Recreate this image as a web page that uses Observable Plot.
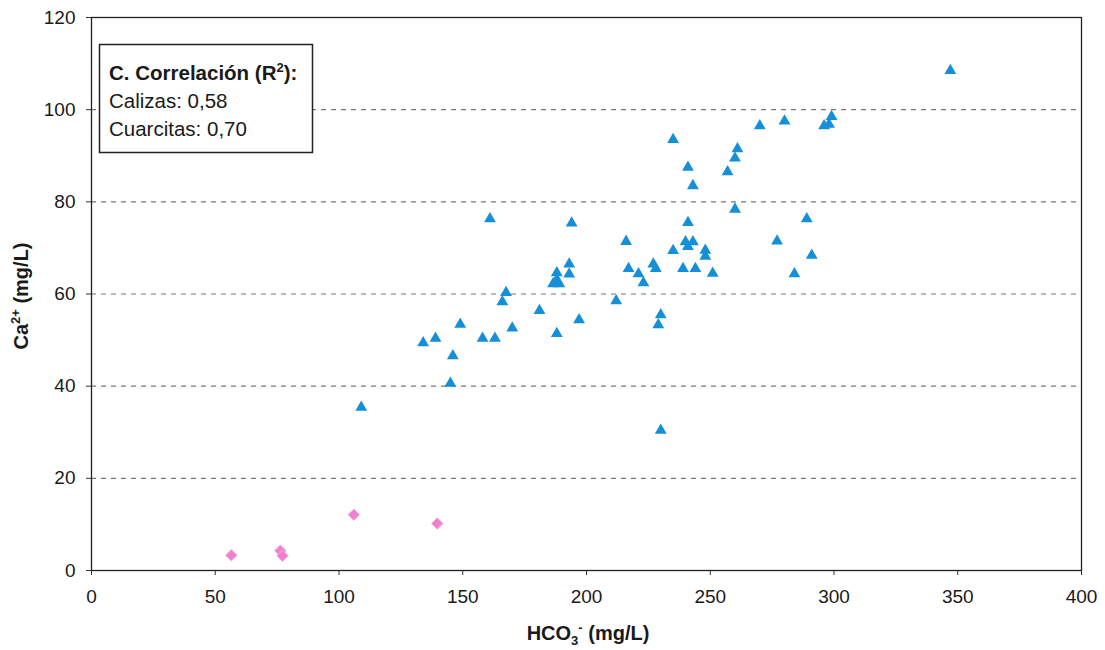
<!DOCTYPE html>
<html>
<head>
<meta charset="utf-8">
<script src="https://cdn.jsdelivr.net/npm/d3@7"></script>
<script src="https://cdn.jsdelivr.net/npm/@observablehq/plot@0.6"></script>
<style>
  html, body { margin: 0; padding: 0; background: #fff; }
  #chart svg { display: block; }
  #chart svg g[aria-label$="tick label"] text { font-size: 19px !important; }
</style>
</head>
<body>
<div id="chart"></div>
<script>
// Cuarcitas (blue triangles): HCO3- (mg/L) and Ca2+ (mg/L)
const cuarcitasHCO3 = [347, 235, 270, 280, 261, 260, 241, 257, 243, 296, 298, 299,
  161, 194, 260, 241, 216, 240, 243, 241, 235, 248, 248, 277, 284, 217, 221, 223,
  227, 228, 239, 244, 251, 188, 188, 186.5, 189, 193, 193, 167.5, 166, 212, 181,
  230, 229, 197, 149, 170, 134, 139, 158, 163, 188, 146, 145, 289, 291, 109, 230];
const cuarcitasCa = [108.5, 93.5, 96.5, 97.5, 91.5, 89.5, 87.5, 86.5, 83.5, 96.5, 96.8, 98.5,
  76.3, 75.4, 78.4, 75.5, 71.4, 71.3, 71.3, 70.3, 69.4, 69.5, 68.2, 71.5, 64.4, 65.5, 64.4, 62.4,
  66.5, 65.5, 65.5, 65.5, 64.5, 64.6, 63.1, 62.2, 62.2, 66.5, 64.3, 60.3, 58.3, 58.5, 56.4,
  55.5, 53.3, 54.4, 53.4, 52.6, 49.4, 50.4, 50.4, 50.4, 51.4, 46.6, 40.6, 76.3, 68.4, 35.4, 30.4];
// Calizas (pink diamonds)
const calizasHCO3 = [56.5, 76.3, 77.2, 106, 139.7];
const calizasCa = [3.3, 4.3, 3.2, 12.1, 10.2];

const xTicks = [0, 50, 100, 150, 200, 250, 300, 350, 400];
const yTicks = [0, 20, 40, 60, 80, 100, 120];
const gridY = [20, 40, 60, 80, 100];

const legendTitle = "C. Correlación (R";
const legendLines = ["Calizas: 0,58", "Cuarcitas: 0,70"];

const cuarcitas = cuarcitasHCO3.map((x, i) => ({x, y: cuarcitasCa[i]}));
const calizas = calizasHCO3.map((x, i) => ({x, y: calizasCa[i]}));

const font = "Liberation Sans, Arial, sans-serif";

const plot = Plot.plot({
  width: 1105,
  height: 650,
  marginLeft: 91,
  marginRight: 24,
  marginTop: 17,
  marginBottom: 80,
  style: {fontFamily: font, fontSize: "19px", color: "#1a1a1a", background: "#fff"},
  x: {domain: [0, 400]},
  y: {domain: [0, 120]},
  marks: [
    Plot.ruleY(gridY, {stroke: "#777", strokeWidth: 1.2, strokeDasharray: "5,5"}),
    Plot.axisX({ticks: xTicks, tickSize: 5, tickPadding: 14, label: null, stroke: "#333"}),
    Plot.axisY({ticks: yTicks, tickSize: 5, tickPadding: 11, label: null, stroke: "#333"}),
    Plot.frame({stroke: "#222", strokeWidth: 1.3}),
    Plot.dot(calizas, {x: "x", y: "y", symbol: "diamond2", r: 5.2, fill: "#ee80cc", stroke: "#f6b4e0", strokeWidth: 1}),
    Plot.dot(cuarcitas, {x: "x", y: "y", symbol: "triangle", r: 4.4, fill: "#1590d8"})
  ]
});

document.getElementById("chart").appendChild(plot);

const svg = d3.select(plot);

// X axis label: HCO3- (mg/L)
const xl = svg.append("text")
  .attr("x", 588).attr("y", 640)
  .attr("text-anchor", "middle")
  .attr("font-family", font).attr("font-size", 20).attr("font-weight", "bold")
  .attr("fill", "#1a1a1a");
xl.append("tspan").text("HCO");
xl.append("tspan").attr("font-size", 13).attr("dy", 5).text("3");
xl.append("tspan").attr("font-size", 13).attr("dy", -13).text("-");
xl.append("tspan").attr("dy", 8).text(" (mg/L)");

// Y axis label: Ca2+ (mg/L)
const yl = svg.append("text")
  .attr("transform", "translate(28,296) rotate(-90)")
  .attr("text-anchor", "middle")
  .attr("font-family", font).attr("font-size", 20).attr("font-weight", "bold")
  .attr("fill", "#1a1a1a");
yl.append("tspan").text("Ca");
yl.append("tspan").attr("font-size", 13).attr("dy", -8).text("2+");
yl.append("tspan").attr("dy", 8).text(" (mg/L)");

// Correlation box
const g = svg.append("g").attr("text-anchor", "start");
g.append("rect")
  .attr("x", 99.5).attr("y", 44.5).attr("width", 213).attr("height", 108)
  .attr("fill", "#fff").attr("stroke", "#222").attr("stroke-width", 1.5);
const t0 = g.append("text")
  .attr("x", 109).attr("y", 80)
  .attr("text-anchor", "start")
  .attr("font-family", font).attr("font-size", 20.5).attr("font-weight", "bold")
  .attr("fill", "#1a1a1a");
t0.append("tspan").text(legendTitle);
t0.append("tspan").attr("font-size", 13).attr("dy", -8).text("2");
t0.append("tspan").attr("dy", 8).text("):");
legendLines.forEach((s, i) => {
  g.append("text")
    .attr("x", 109).attr("y", 108 + i * 28)
    .attr("text-anchor", "start")
    .attr("font-family", font).attr("font-size", 20.5)
    .attr("fill", "#1a1a1a")
    .text(s);
});
</script>
</body>
</html>
